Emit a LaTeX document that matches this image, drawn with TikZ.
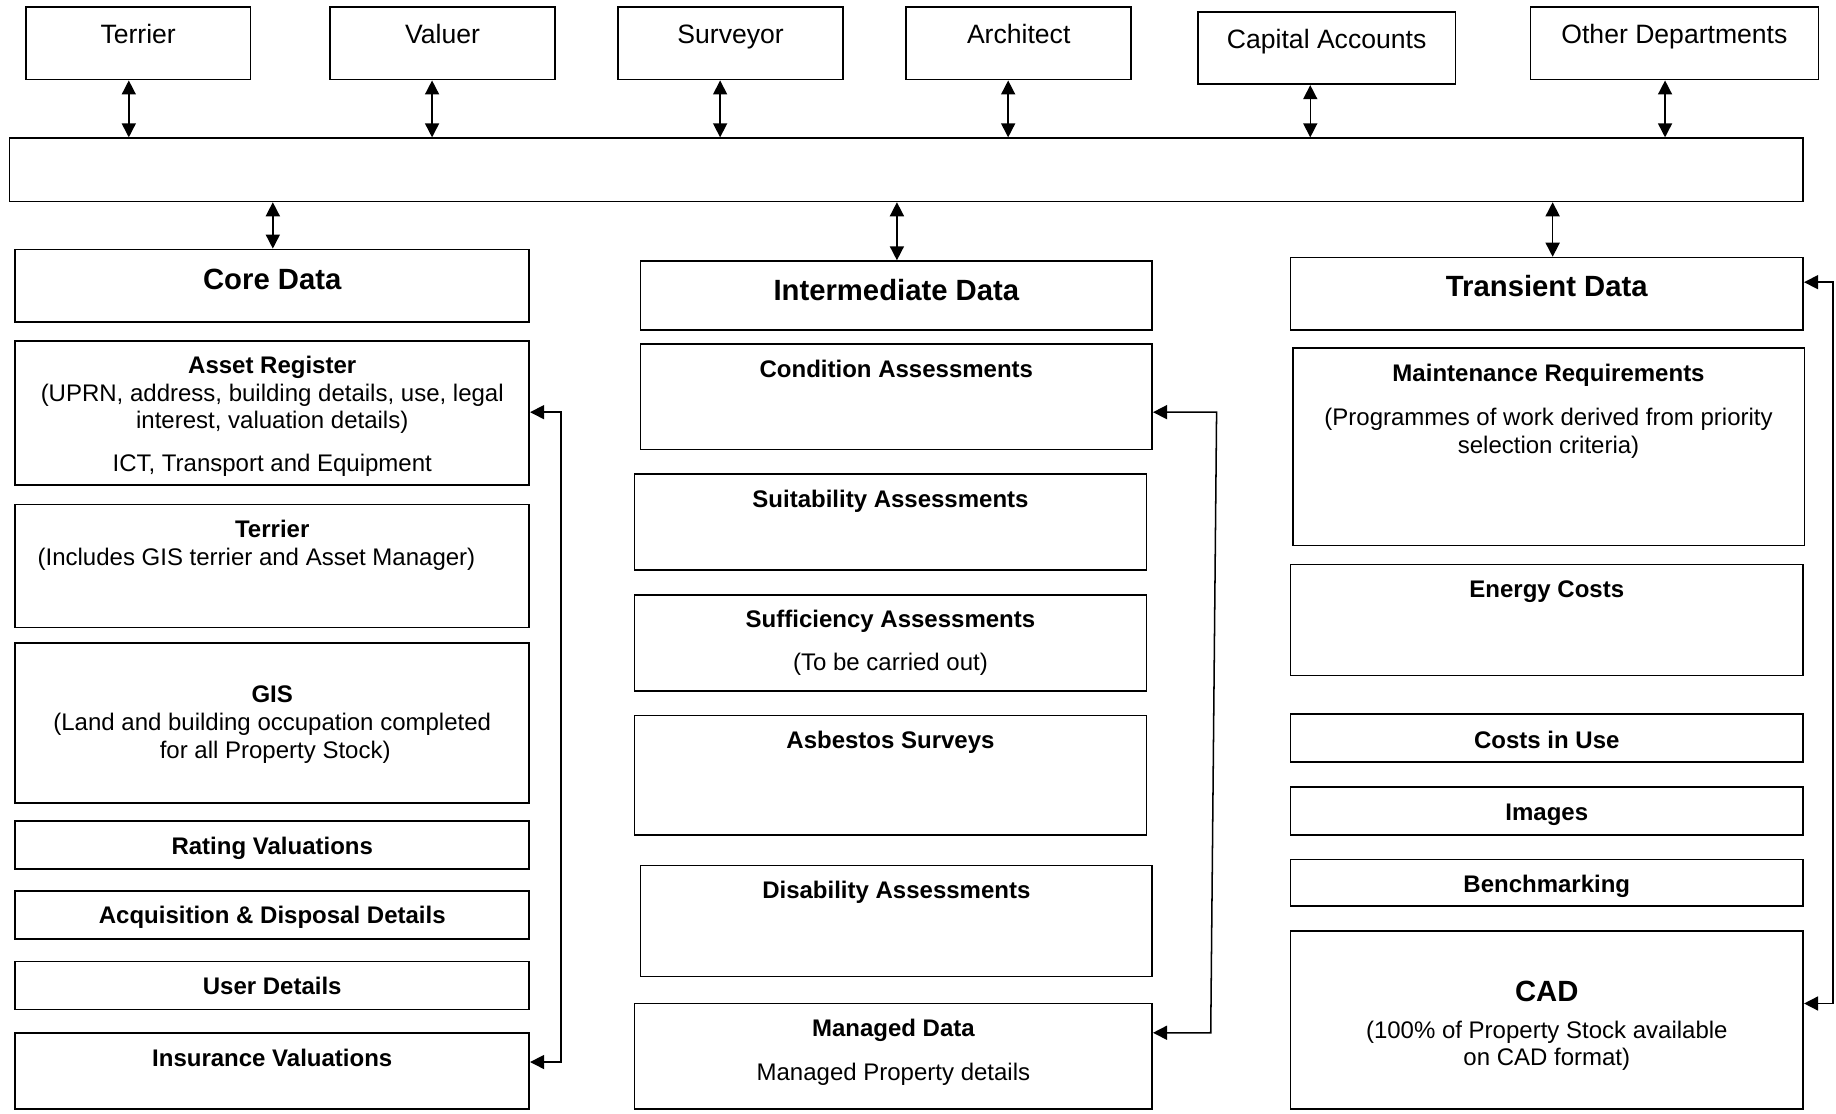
\documentclass[tikz,border=0pt]{standalone}
\usepackage{fontspec}
\setmainfont{Liberation Sans}
\usetikzlibrary{arrows.meta,fit,calc}
\begin{document}
\begin{tikzpicture}[x=1pt,y=-1pt,
  boxst/.style={draw, line width=1.4pt, inner sep=0pt},
  tx/.style={anchor=base, inner sep=0pt, font=\fontsize{20.5}{24}\selectfont},
  txb/.style={anchor=base, inner sep=0pt, font=\fontsize{20.5}{24}\selectfont\bfseries},
  ttitle/.style={anchor=base, inner sep=0pt, font=\fontsize{25}{28}\selectfont\bfseries},
  ttop/.style={anchor=base, inner sep=0pt, font=\fontsize{22.7}{26}\selectfont},
  dbl/.style={line width=1.3pt, {Triangle[length=12pt,width=12pt]}-{Triangle[length=12pt,width=12pt]}}
]
\useasboundingbox (0,0) rectangle (1568,951);

% top boxes
\node[boxst, fit={(22,6) (214,68)}] (tb1) {};
\node[ttop] (tt1) at (118,37) {Terrier};
\node[boxst, fit={(282,6) (474,68)}] (tb2) {};
\node[ttop] (tt2) at (378,37) {Valuer};
\node[boxst, fit={(528,6) (720,68)}] (tb3) {};
\node[ttop] (tt3) at (624,37) {Surveyor};
\node[boxst, fit={(774,6) (966,68)}] (tb4) {};
\node[ttop] (tt4) at (870,37) {Architect};
\node[boxst, fit={(1023,10) (1243,72)}] (tb5) {};
\node[ttop] (tt5) at (1133,41) {Capital Accounts};
\node[boxst, fit={(1307,6) (1553,68)}] (tb6) {};
\node[ttop] (tt6) at (1430,37) {Other Departments};

% bus
\node[boxst, fit={(8,118) (1540,172)}] (bus) {};

\coordinate (ax1) at (110,0);
\coordinate (ax2) at (369,0);
\coordinate (ax3) at (615,0);
\coordinate (ax4) at (861,0);
\coordinate (ax5) at (1119,0);
\coordinate (ax6) at (1422,0);
\coordinate (ax7) at (233,0);
\coordinate (ax8) at (766,0);
\coordinate (ax9) at (1326,0);

% left column
\node[boxst, fit={(13,213) (452,275)}] (core) {};
\node[ttitle] (tcore) at (232.5,247) {Core Data};
\node[boxst, fit={(13,291) (452,414)}] (ar) {};
\node[txb] (tar1) at (232.5,319) {Asset Register};
\node[tx] (tar2) at (232.5,343) {(UPRN, address, building details, use, legal};
\node[tx] (tar3) at (232.5,366) {interest, valuation details)};
\node[tx] (tar4) at (232.5,403) {ICT, Transport and Equipment};
\node[boxst, fit={(13,431) (452,536)}] (ter) {};
\node[txb] (tter1) at (232.5,459) {Terrier};
\node[tx] (tter2) at (219,483) {(Includes GIS terrier and Asset Manager)};
\node[boxst, fit={(13,549) (452,686)}] (gis) {};
\node[txb] (tgis1) at (232.5,600) {GIS};
\node[tx] (tgis2) at (232.5,624) {(Land and building occupation completed};
\node[tx] (tgis3) at (235,648) {for all Property Stock)};
\node[boxst, fit={(13,701) (452,742)}] (rat) {};
\node[txb] (trat) at (232.5,730) {Rating Valuations};
\node[boxst, fit={(13,761) (452,802)}] (acq) {};
\node[txb] (tacq) at (232.5,789) {Acquisition \& Disposal Details};
\node[boxst, fit={(13,821) (452,862)}] (usr) {};
\node[txb] (tusr) at (232.5,849) {User Details};
\node[boxst, fit={(13,882) (452,947)}] (ins) {};
\node[txb] (tins) at (232.5,911) {Insurance Valuations};

% middle column
\node[boxst, fit={(547,223) (984,282)}] (inter) {};
\node[ttitle] (tinter) at (765.5,257) {Intermediate Data};
\node[boxst, fit={(547,294) (984,384)}] (cond) {};
\node[txb] (tcond) at (765.5,322) {Condition Assessments};
\node[boxst, fit={(542,405) (979,487)}] (suit) {};
\node[txb] (tsuit) at (760.5,433) {Suitability Assessments};
\node[boxst, fit={(542,508) (979,590)}] (suff) {};
\node[txb] (tsuff1) at (760.5,536) {Sufficiency Assessments};
\node[tx] (tsuff2) at (760.5,573) {(To be carried out)};
\node[boxst, fit={(542,611) (979,713)}] (asb) {};
\node[txb] (tasb) at (760.5,639) {Asbestos Surveys};
\node[boxst, fit={(547,739) (984,834)}] (dis) {};
\node[txb] (tdis) at (765.5,767) {Disability Assessments};
\node[boxst, fit={(542,857) (984,947)}] (man) {};
\node[txb] (tman1) at (763,885) {Managed Data};
\node[tx] (tman2) at (763,923) {Managed Property details};

% right column
\node[boxst, fit={(1102,220) (1540,282)}] (trans) {};
\node[ttitle] (ttrans) at (1321,253) {Transient Data};
\node[boxst, fit={(1104,297) (1541,466)}] (maint) {};
\node[txb] (tmaint1) at (1322.5,326) {Maintenance Requirements};
\node[tx] (tmaint2) at (1322.5,363) {(Programmes of work derived from priority};
\node[tx] (tmaint3) at (1322.5,387) {selection criteria)};
\node[boxst, fit={(1102,482) (1540,577)}] (energy) {};
\node[txb] (tenergy) at (1321,510) {Energy Costs};
\node[boxst, fit={(1102,610) (1540,651)}] (ciu) {};
\node[txb] (tciu) at (1321,639) {Costs in Use};
\node[boxst, fit={(1102,672) (1540,713)}] (img) {};
\node[txb] (timg) at (1321,701) {Images};
\node[boxst, fit={(1102,734) (1540,774)}] (bench) {};
\node[txb] (tbench) at (1321,762) {Benchmarking};
\node[boxst, fit={(1102,795) (1540,947)}] (cad) {};
\node[ttitle] (tcad1) at (1321,855) {CAD};
\node[tx] (tcad2) at (1321,887) {(100\% of Property Stock available};
\node[tx] (tcad3) at (1321,910) {on CAD format)};

% vertical double arrows
\draw[dbl] (ax1 |- tb1.south) -- (ax1 |- bus.north);
\draw[dbl] (ax2 |- tb2.south) -- (ax2 |- bus.north);
\draw[dbl] (ax3 |- tb3.south) -- (ax3 |- bus.north);
\draw[dbl] (ax4 |- tb4.south) -- (ax4 |- bus.north);
\draw[dbl] (ax5 |- tb5.south) -- (ax5 |- bus.north);
\draw[dbl] (ax6 |- tb6.south) -- (ax6 |- bus.north);
\draw[dbl] (ax7 |- bus.south) -- (ax7 |- core.north);
\draw[dbl] (ax8 |- bus.south) -- (ax8 |- inter.north);
\draw[dbl] (ax9 |- bus.south) -- (ax9 |- trans.north);

% side connectors
\coordinate (y352) at (0,352);
\coordinate (y907) at (0,907);
\coordinate (y882) at (0,882);
\coordinate (y241) at (0,241);
\coordinate (y857) at (0,857);
\coordinate (lc1) at (479,352);
\coordinate (lc2) at (479,907);
\coordinate (mc1) at (1039,352);
\coordinate (mc2) at (1034,882);
\coordinate (rc1) at (1565.5,241);
\coordinate (rc2) at (1565.5,857);
\draw[dbl] (ar.east |- y352) -- (lc1) -- (lc2) -- (ins.east |- y907);
\draw[dbl] (cond.east |- y352) -- (mc1) -- (mc2) -- (man.east |- y882);
\draw[dbl] (trans.east |- y241) -- (rc1) -- (rc2) -- (cad.east |- y857);
\end{tikzpicture}
\end{document}
